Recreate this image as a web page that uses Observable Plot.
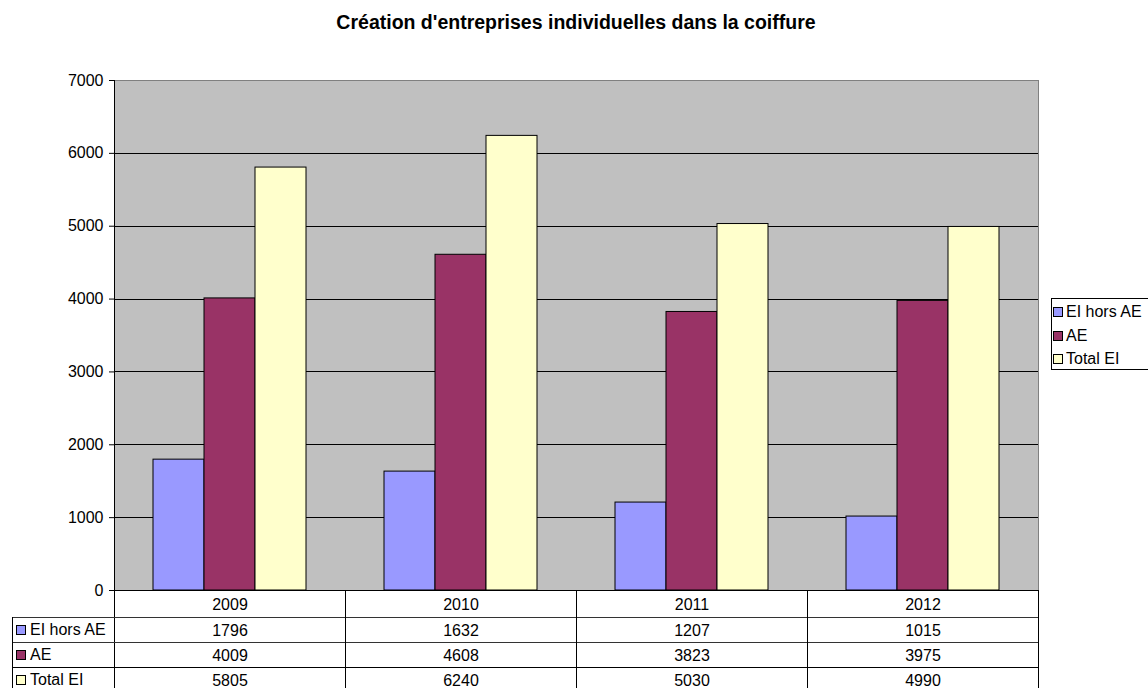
<!DOCTYPE html>
<html><head><meta charset="utf-8">
<script src="https://cdn.jsdelivr.net/npm/d3@7"></script>
<script src="https://cdn.jsdelivr.net/npm/@observablehq/plot@0.6"></script>
<style>
body{margin:0;background:#fff;font-family:Arial,"Liberation Sans",sans-serif;}
#wrap{position:relative;width:1148px;height:688px;overflow:hidden}
#wrap svg{position:absolute;left:0;top:0}
#title{position:absolute;left:114px;top:12px;width:924px;text-align:center;font-weight:bold;font-size:19.5px;line-height:20px;color:#000;white-space:nowrap}
#legend{position:absolute;left:1051px;top:298px;width:110px;height:72px;border:1px solid #000;box-sizing:border-box;font-size:16px;background:#fff}
#legend .it{position:absolute;left:1px;height:20px;line-height:20px;white-space:nowrap}
#legend .sw{display:inline-block;width:8px;height:8px;border:1px solid #000;margin-right:3px;vertical-align:0px}
</style></head><body><div id="wrap"><div id="title">Création d'entreprises individuelles dans la coiffure</div><div id="legend"></div></div>
<script>
const years = ["2009", "2010", "2011", "2012"];
const series = ["EI hors AE", "AE", "Total EI"];
const eiHorsAE = [1796, 1632, 1207, 1015];
const ae = [4009, 4608, 3823, 3975];
const totalEI = [5805, 6240, 5030, 4990];
const colors = ["#9999FF", "#993366", "#FFFFCC"];
const yTicks = [0, 1000, 2000, 3000, 4000, 5000, 6000, 7000];

const values = [eiHorsAE, ae, totalEI];
const data = years.flatMap((yr, i) => series.map((s, j) => ({year: yr, series: s, value: values[j][i]})));

const W = 1148, H = 688, mL = 114, mR = 110, mT = 80, mB = 98;
const rowH = 25;

const marks = [
  Plot.frame({fill: "#C0C0C0", shapeRendering: "crispEdges"}),
  Plot.ruleY(yTicks.filter(d => d > 0 && d < 7000), {stroke: "#000", shapeRendering: "crispEdges"}),
  Plot.ruleY([7000], {stroke: "#808080", shapeRendering: "crispEdges"}),
  Plot.barY(data, {fx: "year", x: "series", y: "value", fill: "series", stroke: "#000", strokeWidth: 1, inset: 0}),
  Plot.text(years, {fx: d => d, text: d => d, frameAnchor: "bottom", lineAnchor: "middle", dy: 14, fill: "#000"})
];
series.forEach((s, j) => {
  marks.push(Plot.text(data.filter(d => d.series === s), {fx: "year", text: d => String(d.value), frameAnchor: "bottom", lineAnchor: "middle", dy: 40 + rowH * j, fill: "#000"}));
});

const plot = Plot.plot({
  width: W, height: H, marginTop: mT, marginBottom: mB, marginLeft: mL, marginRight: mR,
  style: {fontFamily: "Arial, 'Liberation Sans', sans-serif", fontSize: "16px", background: "transparent", overflow: "visible", color: "#000"},
  fx: {domain: years, padding: 0, axis: null, label: null},
  x: {domain: series, paddingInner: 0, paddingOuter: 0.75, axis: null},
  y: {domain: [0, 7000], ticks: yTicks, tickSize: 5, tickPadding: 6, label: null, tickFormat: d => String(d)},
  color: {domain: series, range: colors},
  marks
});
document.getElementById("wrap").appendChild(plot);

const svg = d3.select(plot);
const fx = plot.scale("fx");
const g = svg.append("g").attr("stroke", "#000").attr("shape-rendering", "crispEdges");
const y0 = H - mB;
const tableBottom = H + 10;
const line = (x1, y1, x2, y2, c) => g.append("line").attr("x1", x1).attr("y1", y1).attr("x2", x2).attr("y2", y2).attr("stroke", c || "#000");
// axis line and table left boundary
line(mL + 0.5, mT, mL + 0.5, tableBottom);
// right border
line(W - mR + 0.5, mT, W - mR + 0.5, y0, "#808080");
line(W - mR + 0.5, y0, W - mR + 0.5, tableBottom);
// baseline
line(mL, y0 + 0.5, W - mR, y0 + 0.5);
// row lines
for (let r = 1; r <= 3; r++) {
  const yy = y0 + 27 + rowH * (r - 1) + 0.5;
  line(12, yy, W - mR, yy, r < 3 ? "#333" : "#000");
}
// left border of the label column
line(12.5, y0 + 27, 12.5, tableBottom);
// column separators
years.slice(1).forEach(yr => {
  const xx = Math.round(fx.apply(yr)) + 0.5;
  line(xx, y0, xx, tableBottom);
});
// row labels with swatches
series.forEach((s, j) => {
  const cy = y0 + 40 + rowH * j;
  svg.append("rect").attr("x", 16.5).attr("y", Math.round(cy - 5) + 0.5).attr("width", 9).attr("height", 9)
    .attr("fill", colors[j]).attr("stroke", "#000").attr("shape-rendering", "crispEdges");
  svg.append("text").attr("x", 30).attr("y", cy).attr("dy", "0.32em").attr("text-anchor", "start")
    .attr("font-size", 16).attr("fill", "#000").text(s);
});

// right legend
const leg = document.getElementById("legend");
series.forEach((s, j) => {
  const it = document.createElement("div");
  it.className = "it";
  it.style.top = (3 + 23.5 * j) + "px";
  it.innerHTML = `<span class="sw" style="background:${colors[j]}"></span>${s}`;
  leg.appendChild(it);
});
</script>
</body></html>
